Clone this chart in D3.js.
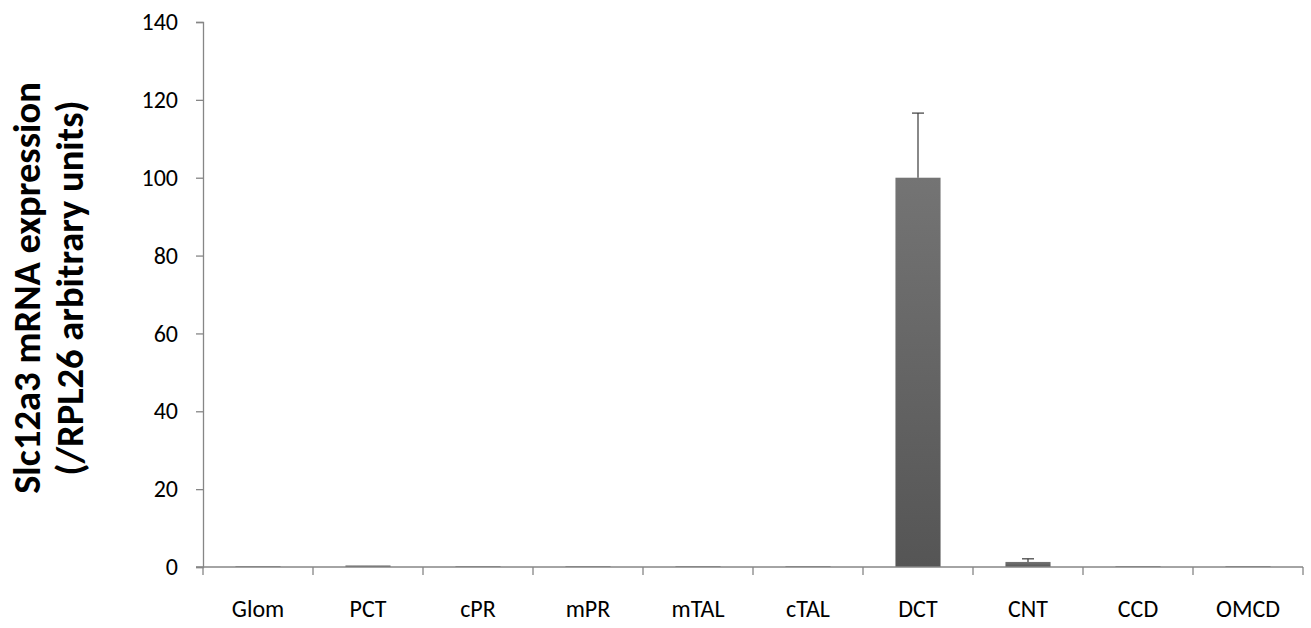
<!DOCTYPE html>
<html><head><meta charset="utf-8">
<script src="https://cdn.jsdelivr.net/npm/d3@7"></script>
<style>body{margin:0;background:#fff;} svg{display:block;}</style>
</head><body>
<svg id="c" width="1311" height="628"></svg>
<script>
const categories = ["Glom","PCT","cPR","mPR","mTAL","cTAL","DCT","CNT","CCD","OMCD"];
const values = [0.2, 0.4, 0.2, 0.2, 0.2, 0.2, 100, 1.3, 0.2, 0.2];
const errors = [0, 0, 0, 0, 0, 0, 16.6, 0.8, 0, 0];
const yTicks = [0, 20, 40, 60, 80, 100, 120, 140];
const yLabel1 = "Slc12a3 mRNA expression";
const yLabel2 = "(/RPL26 arbitrary units)";

const svg = d3.select("#c");
const m = {left: 203, right: 1303, top: 22, bottom: 567};
const font = "Carlito, Calibri, 'Liberation Sans', Arial, sans-serif";

const x = d3.scaleBand().domain(categories).range([m.left, m.right]).padding(0);
const y = d3.scaleLinear().domain([0, 140]).range([m.bottom, m.top]);

const defs = svg.append("defs");
const g = defs.append("linearGradient").attr("id","barg").attr("x1",0).attr("y1",0).attr("x2",0).attr("y2",1);
g.append("stop").attr("offset","0%").attr("stop-color","#747474");
g.append("stop").attr("offset","100%").attr("stop-color","#555555");

// y axis
const yAxis = d3.axisLeft(y).tickValues(yTicks).tickSize(7).tickPadding(18);
const ya = svg.append("g").attr("transform",`translate(${m.left},0)`).call(yAxis);
ya.select(".domain").attr("stroke","#868686").attr("stroke-width",1.3);
ya.selectAll(".tick line").attr("stroke","#868686").attr("stroke-width",1.3);
ya.selectAll(".tick text").attr("font-family",font).attr("font-size",24).attr("fill","#000");

// bars
const bw = x.bandwidth()*0.41;
svg.append("g").selectAll("rect").data(categories).join("rect")
  .attr("x", d => x(d) + x.bandwidth()/2 - bw/2)
  .attr("y", (d,i) => y(values[i]))
  .attr("width", bw)
  .attr("height", (d,i) => y(0) - y(values[i]))
  .attr("fill","url(#barg)");

// error bars
const eg = svg.append("g").attr("stroke","#3a3a3a").attr("stroke-width",1.2);
categories.forEach((d,i) => {
  if (errors[i] <= 0) return;
  const cx = x(d) + x.bandwidth()/2;
  eg.append("line").attr("x1",cx).attr("x2",cx).attr("y1",y(values[i])).attr("y2",y(values[i]+errors[i]));
  eg.append("line").attr("x1",cx-6).attr("x2",cx+6).attr("y1",y(values[i]+errors[i])).attr("y2",y(values[i]+errors[i]));
});

// x axis
const xTickScale = d3.scaleLinear().domain([0, categories.length]).range([m.left, m.right]);
const xa = svg.append("g").attr("transform",`translate(0,${m.bottom})`);
xa.append("line").attr("x1",m.left-7).attr("x2",m.right).attr("y1",0).attr("y2",0)
  .attr("stroke","#868686").attr("stroke-width",1.3);
d3.range(categories.length+1).forEach(k => {
  xa.append("line").attr("x1",xTickScale(k)).attr("x2",xTickScale(k)).attr("y1",0).attr("y2",8)
    .attr("stroke","#868686").attr("stroke-width",1.3);
});
xa.selectAll("text.cat").data(categories).join("text").attr("class","cat")
  .attr("x", d => x(d)+x.bandwidth()/2).attr("y", 50)
  .attr("text-anchor","middle").attr("font-family",font).attr("font-size",24).attr("fill","#000")
  .text(d => d);

// y label
const yl = svg.append("g").attr("transform","translate(0,288) rotate(-90)");
yl.append("text").attr("x",0).attr("y",40).attr("text-anchor","middle")
  .attr("font-family",font).attr("font-weight","bold").attr("font-size",38.5).text(yLabel1);
yl.append("text").attr("x",0).attr("y",83).attr("text-anchor","middle")
  .attr("font-family",font).attr("font-weight","bold").attr("font-size",38.5).text(yLabel2);
</script>
</body></html>
